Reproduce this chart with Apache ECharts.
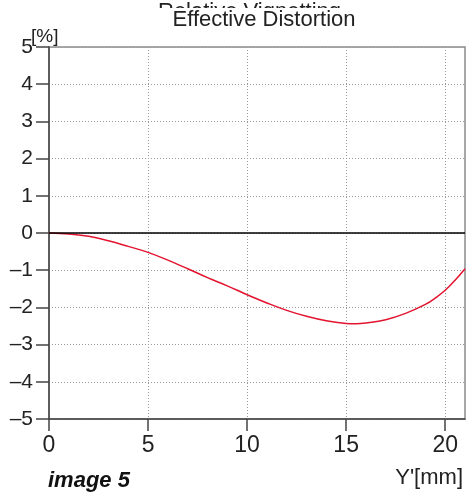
<!DOCTYPE html>
<html>
<head>
<meta charset="utf-8">
<script src="https://cdn.jsdelivr.net/npm/echarts@6/dist/echarts.min.js"></script>
<style>
  html, body { margin: 0; padding: 0; background: #fff; }
  #chart { width: 473px; height: 499px; }
</style>
</head>
<body>
<div id="chart"></div>
<script>
// image height Y' in mm
const imageHeight = [0, 1, 2, 3, 4, 5, 6, 7, 8, 9, 10, 11, 12, 13, 14, 15, 15.5, 16, 17, 18, 19, 19.5, 20, 20.5, 21]
// effective distortion in %
const distortion = [0, -0.03, -0.09, -0.21, -0.36, -0.52, -0.73, -0.96, -1.2, -1.42, -1.66, -1.88, -2.08, -2.24, -2.36, -2.43, -2.44, -2.42, -2.33, -2.16, -1.92, -1.75, -1.54, -1.27, -0.96]
// tick labels
const xTicks = [0, 5, 10, 15, 20]
const yTicks = [-5, -4, -3, -2, -1, 0, 1, 2, 3, 4, 5]

const font = 'Liberation Sans, Arial, sans-serif'

var chartDom = document.getElementById('chart')
var myChart = echarts.init(chartDom)

var option = {
  animation: false,
  grid: {
    left: 49,
    right: 8,
    top: 47,
    bottom: 80,
    show: true,
    borderColor: '#8a8a8a',
    borderWidth: 1.5
  },
  xAxis: {
    type: 'value',
    min: 0,
    max: 21,
    interval: 5,
    axisLine: { show: true, onZero: false, lineStyle: { color: '#444', width: 1.5 } },
    axisTick: {
      show: true,
      length: 12,
      customValues: xTicks,
      lineStyle: { color: '#444', width: 1.5 }
    },
    axisLabel: {
      customValues: xTicks,
      margin: 15,
      color: '#222',
      fontSize: 23,
      fontFamily: font
    },
    splitLine: {
      show: true,
      lineStyle: { type: [1, 2], color: '#999', width: 1 }
    }
  },
  yAxis: {
    type: 'value',
    min: -5,
    max: 5,
    interval: 1,
    axisLine: { show: true, lineStyle: { color: '#444', width: 1.5 } },
    axisTick: {
      show: true,
      length: 13,
      lineStyle: { color: '#444', width: 1.5 }
    },
    axisLabel: {
      customValues: yTicks,
      margin: 16,
      color: '#222',
      fontSize: 21,
      fontFamily: font,
      formatter: v => String(v).replace('-', '–')
    },
    splitLine: {
      show: true,
      lineStyle: { type: [1, 2], color: '#999', width: 1 }
    }
  },
  series: [
    {
      type: 'line',
      data: imageHeight.map((x, i) => [x, distortion[i]]),
      smooth: 0.4,
      showSymbol: false,
      lineStyle: { color: '#e3142f', width: 1.5 },
      markLine: {
        silent: true,
        symbol: 'none',
        label: { show: false },
        lineStyle: { color: '#000', width: 1.5, type: 'solid' },
        data: [{ yAxis: 0 }]
      },
      z: 3
    }
  ],
  graphic: [
    // title of the chart underneath, mostly covered
    { type: 'text', left: 158, top: 1, z: 1,
      style: { text: 'Relative Vignetting', fontSize: 22, fontFamily: font, fill: '#222' } },
    { type: 'rect', shape: { x: 145, y: 8, width: 230, height: 30 }, z: 2,
      style: { fill: '#fff' } },
    { type: 'text', x: 264, y: 20, z: 3,
      style: { text: 'Effective Distortion', fontSize: 22, fontFamily: font, fill: '#222',
        align: 'center', verticalAlign: 'middle' } },
    { type: 'text', left: 31, top: 27, z: 3,
      style: { text: '[%]', fontSize: 19, fontFamily: font, fill: '#222' } },
    { type: 'text', left: 48, top: 470, z: 3,
      style: { text: 'image 5', fontSize: 22, fontWeight: 'bold', fontStyle: 'italic',
        fontFamily: font, fill: '#111' } },
    { type: 'text', right: 10, top: 467, z: 3,
      style: { text: "Y'[mm]", fontSize: 22, fontFamily: font, fill: '#222' } }
  ]
}

option && myChart.setOption(option)
</script>
</body>
</html>
